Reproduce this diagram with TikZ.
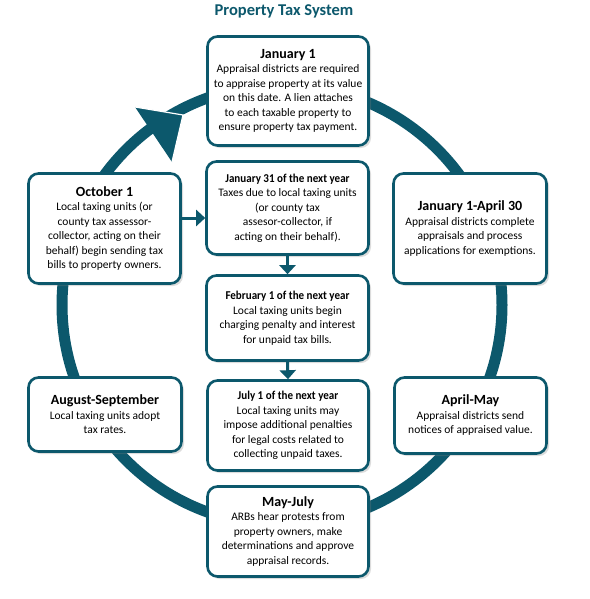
\documentclass[tikz,border=0pt]{standalone}
\usepackage{fontspec}
\setmainfont{Carlito}
\newfontfamily\condfont[FakeStretch=0.92]{Carlito}
\usetikzlibrary{arrows.meta,shadows}
\definecolor{tealdark}{RGB}{12,88,108}
\newcommand\boxhead[1]{{\bfseries\fontsize{14}{14.5}\selectfont #1}}
\newcommand\smallhead[1]{{\condfont\bfseries\fontsize{12}{14.5}\selectfont #1}}
\begin{document}
\begin{tikzpicture}[x=1pt,y=-1pt,
  box/.style={draw=tealdark, line width=2.6pt, rounded corners=10pt, fill=white,
    align=center, inner sep=0pt, text=black, font=\fontsize{11.5}{14.5}\selectfont,
    drop shadow={opacity=0.28, shadow xshift=2.5pt, shadow yshift=-2.5pt}},
  conn/.style={draw=tealdark, line width=3pt, -{Triangle[width=16pt,length=9pt]}},
  ring/.style={draw=tealdark, line width=11pt},
  title/.style={text=tealdark, font=\bfseries\fontsize{16.5}{18}\selectfont}]
\useasboundingbox (0,0) rectangle (589,599);

% ring and big arrowhead
\coordinate (c) at (282,305);
\draw[ring] (c) circle (220pt);
\coordinate (tip) at (183,115);
\coordinate (b1) at (135,107);
\coordinate (b2) at (172,162);
\fill[tealdark] (b1) -- (tip) -- (b2) -- cycle;
\draw[white, line width=1.2pt] (b1) -- (tip) -- (b2);

\node[title] (t) at (284,11) {Property Tax System};

\node[box, minimum width=161pt, minimum height=109pt] (jan1) at (288,91)
  {\boxhead{January 1}\\Appraisal districts are required\\to appraise property at its value\\on this date. A lien attaches\\to each taxable property to\\ensure property tax payment.};

\node[box, minimum width=152pt, minimum height=110pt] (oct) at (104.5,228.5)
  {\boxhead{October 1}\\Local taxing units (or\\county tax assessor-\\collector, acting on their\\behalf) begin sending tax\\bills to property owners.};

\node[box, minimum width=153pt, minimum height=110pt] (janapr) at (470,228.5)
  {\boxhead{January 1-April 30}\\Appraisal districts complete\\appraisals and process\\applications for exemptions.};

\node[box, minimum width=162pt, minimum height=93pt] (jan31) at (287.5,208)
  {\smallhead{January 31 of the next year}\\Taxes due to local taxing units\\(or county tax\\assesor-collector, if\\acting on their behalf).};

\node[box, minimum width=162pt, minimum height=85pt] (feb1) at (287.5,318)
  {\smallhead{February 1 of the next year}\\Local taxing units begin\\charging penalty and interest\\for unpaid tax bills.};

\node[box, minimum width=153pt, minimum height=74pt] (aug) at (105,414.5)
  {\boxhead{August-September}\\Local taxing units adopt\\tax rates.};

\node[box, minimum width=152pt, minimum height=76pt] (aprmay) at (470.5,415.5)
  {\boxhead{April-May}\\Appraisal districts send\\notices of appraised value.};

\node[box, minimum width=161pt, minimum height=90pt] (jul1) at (288,425.5)
  {\smallhead{July 1 of the next year}\\Local taxing units may\\impose additional penalties\\for legal costs related to\\collecting unpaid taxes.};

\node[box, minimum width=161pt, minimum height=90pt] (mayjul) at (288,531.5)
  {\boxhead{May-July}\\ARBs hear protests from\\property owners, make\\determinations and approve\\appraisal records.};

% connectors
\coordinate (ya) at (0,218);
\draw[conn] (oct.east |- ya) -- (jan31.west |- ya);
\draw[conn] (jan31.south) -- (feb1.north);
\draw[conn] (feb1.south) -- (jul1.north);
\end{tikzpicture}
\end{document}
